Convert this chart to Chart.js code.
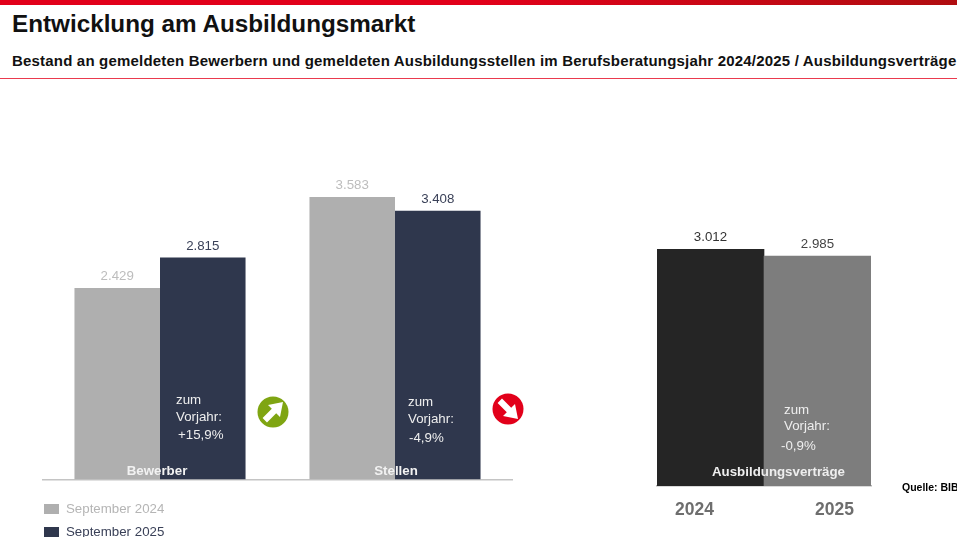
<!DOCTYPE html>
<html lang="de"><head><meta charset="utf-8">
<script src="https://cdn.jsdelivr.net/npm/chart.js@4/dist/chart.umd.min.js"></script>
<style>
html,body{margin:0;padding:0;background:#fff;overflow:hidden;width:957px;height:537px;font-family:"Liberation Sans",Arial,sans-serif}
canvas{position:absolute;left:0;top:0}
.t{position:absolute;white-space:nowrap}
#bar{position:absolute;left:0;top:0;width:957px;height:4.5px;background:linear-gradient(90deg,#e2001a 0%,#e2001a 50%,#b00d10 100%)}
#rule{position:absolute;left:0;top:78px;width:957px;height:1px;background:#ea3a4e}
#title{left:12px;top:10px;font-size:24.25px;font-weight:bold;color:#111}
#sub{left:12px;top:52px;font-size:15px;letter-spacing:.19px;font-weight:bold;color:#111}
.n{color:#eee;font-size:13.3px}
.lg{position:absolute;left:44px;display:flex;align-items:center;font-size:13.3px;white-space:nowrap}
.lg i{display:block;width:15px;height:10px;margin-right:7px}
svg{position:absolute}
</style></head><body>
<div id="bar"></div><div id="rule"></div>
<div class="t" id="title">Entwicklung am Ausbildungsmarkt</div>
<div class="t" id="sub">Bestand an gemeldeten Bewerbern und gemeldeten Ausbildungsstellen im Berufsberatungsjahr 2024/2025 / Ausbildungsverträge</div>
<canvas id="c1" width="957" height="537"></canvas>
<canvas id="c2" width="957" height="537"></canvas>
<div class="t n" style="left:176px;top:392px">zum</div>
<div class="t n" style="left:176px;top:409px">Vorjahr:</div>
<div class="t n" style="left:178px;top:427px">+15,9%</div>
<div class="t n" style="left:408px;top:394px">zum</div>
<div class="t n" style="left:408px;top:411px">Vorjahr:</div>
<div class="t n" style="left:409px;top:430px">-4,9%</div>
<div class="t n" style="left:784px;top:402px">zum</div>
<div class="t n" style="left:784px;top:418px">Vorjahr:</div>
<div class="t n" style="left:781px;top:438px">-0,9%</div>
<div class="t" style="left:712px;top:464px;font-size:13.3px;font-weight:bold;color:#eee">Ausbildungsverträge</div>
<div class="t" style="left:902px;top:481px;font-size:10.5px;font-weight:bold;color:#000">Quelle: BIBB</div>
<svg style="left:257px;top:396px" width="32" height="32" viewBox="0 0 32 32"><circle cx="16" cy="16" r="15.5" fill="#7fa512"/><path d="M26 6 L23 21 L19.2 17.2 L10 26.4 L5.6 22 L14.8 12.8 L11 9 Z" fill="#fff"/></svg>
<svg style="left:492px;top:393px" width="32" height="32" viewBox="0 0 32 32"><circle cx="16" cy="16" r="15.5" fill="#e2001a"/><path d="M26 26 L23 11 L19.2 14.8 L10 5.6 L5.6 10 L14.8 19.2 L11 23 Z" fill="#fff"/></svg>
<script>
const groupLabels = ['Bewerber', 'Stellen'];
const sept2024 = [2429, 3583];
const sept2025 = [2815, 3408];
const vertragLabels = ['2024', '2025'];
const vertragValues = [3012, 2985];
const colGrey = '#afafaf', colNavy = '#2f374d', colDark = '#252525', colMid = '#7d7d7d';

const fmt = v => String(v).replace(/\B(?=(\d{3})+$)/g, '.');
const FF = '"Liberation Sans", Arial, sans-serif';

const valueLabels = {
  id: 'valueLabels',
  afterDatasetsDraw(chart) {
    const ctx = chart.ctx; ctx.save();
    ctx.font = '13.3px ' + FF; ctx.textAlign = 'center'; ctx.textBaseline = 'alphabetic';
    chart.data.datasets.forEach((ds, di) => {
      chart.getDatasetMeta(di).data.forEach((bar, i) => {
        const c = ds.labelColor; ctx.fillStyle = Array.isArray(c) ? c[i] : c;
        ctx.fillText(fmt(ds.data[i]), bar.x, bar.y - 8);
      });
    });
    ctx.restore();
  }
};
const catLabels = {
  id: 'catLabels',
  afterDraw(chart, _a, o) {
    const ctx = chart.ctx, sc = chart.scales.x; ctx.save();
    ctx.font = o.font; ctx.fillStyle = o.color; ctx.textAlign = 'center'; ctx.textBaseline = 'alphabetic';
    chart.data.labels.forEach((l, i) => ctx.fillText(l, sc.getPixelForTick(i) + o.dx[i], sc.bottom + o.dy));
    ctx.restore();
  }
};
Chart.defaults.animation = false;
const base = (pad, yMin, yMax, cat, barW, xLine) => ({
  responsive: false, animation: false, events: [],
  layout: { padding: pad },
  plugins: { legend: { display: false }, tooltip: { enabled: false }, catLabels: cat },
  scales: {
    x: { stacked: false, grid: { display: false }, ticks: { display: false }, border: { display: true, color: xLine, width: 1.5 }, afterFit: s => { s.height = 0; } },
    y: { display: false, min: yMin, max: yMax, beginAtZero: false }
  },
  datasets: { bar: { barPercentage: 1, categoryPercentage: barW, borderWidth: 0 } }
});

const chart1 = new Chart(document.getElementById('c1'), {
  type: 'bar',
  data: { labels: groupLabels, datasets: [
    { label: 'September 2024', data: sept2024, backgroundColor: colGrey, labelColor: '#bdbdbd' },
    { label: 'September 2025', data: sept2025, backgroundColor: colNavy, labelColor: '#3a4158' }
  ]},
  options: base({ left: 42.5, right: 444.5, top: 197, bottom: 57.5 }, 0, 3583,
    { font: 'bold 13.3px ' + FF, color: '#f2f2f2', dx: [-3, 1], dy: -5 }, 0.728, '#c4c4c4'),
  plugins: [valueLabels, catLabels]
});

const chart2 = new Chart(document.getElementById('c2'), {
  type: 'bar',
  data: { labels: vertragLabels, datasets: [
    { label: 'Ausbildungsverträge', data: vertragValues, backgroundColor: [colDark, colMid], labelColor: ['#333', '#444'] }
  ]},
  options: base({ left: 657, right: 86, top: 249, bottom: 51 }, 2100, 3012,
    { font: 'bold 17.5px ' + FF, color: '#6e6e6e', dx: [-16, 17], dy: 29 }, 1, '#b5b5b5'),
  plugins: [valueLabels, catLabels]
});

chart1.data.datasets.forEach((ds, i) => {
  const d = document.createElement('div');
  d.className = 'lg';
  d.style.top = (i === 0 ? 501 : 524) + 'px';
  d.style.color = ds.labelColor === '#bdbdbd' ? '#b5b5b5' : ds.labelColor;
  d.innerHTML = '<i style="background:' + ds.backgroundColor + '"></i>' + ds.label;
  document.body.appendChild(d);
});
</script>
</body></html>
